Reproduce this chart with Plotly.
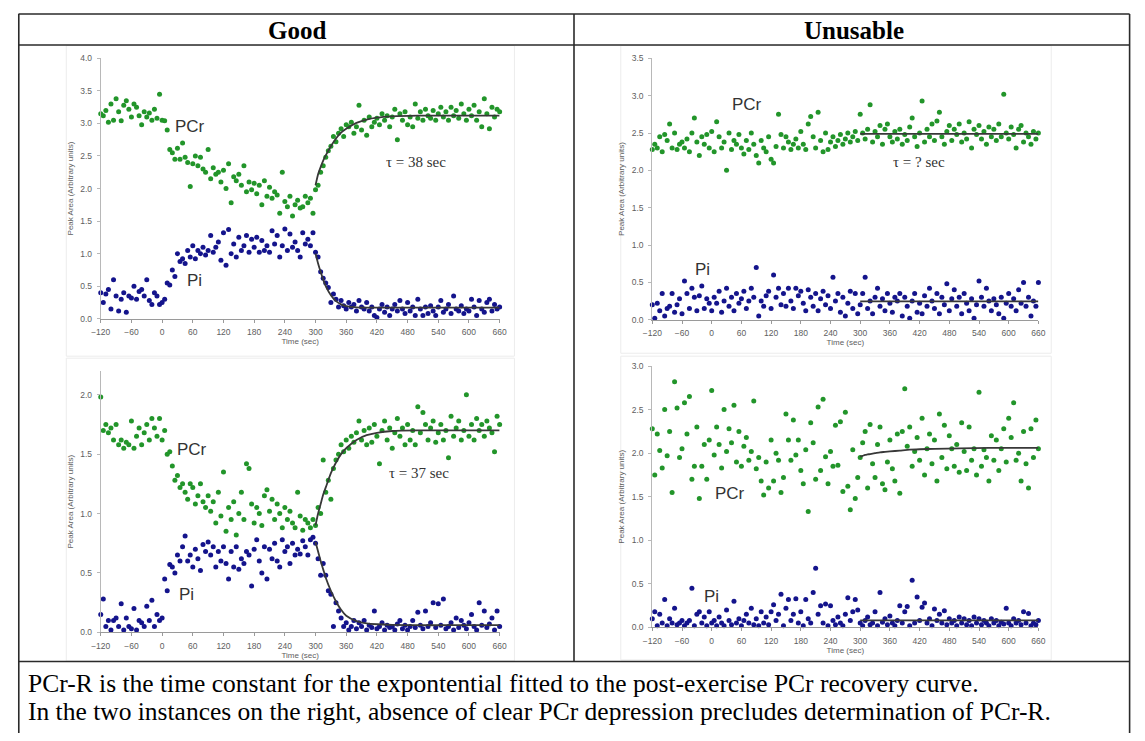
import plotly.graph_objects as go

# target picture is 1145x741; the page body keeps its default 8px margin,
# so the figure itself is 16px smaller and every target pixel is shifted by 8.
OFF = 8
W, H = 1145 - 2 * OFF, 741 - 2 * OFF

# ---------------- time grids (sec) ----------------
pre_t = list(range(-120, 0, 5))      # 24 samples
ex_t = list(range(0, 300, 5))        # 60 samples
rec_t = list(range(300, 661, 5))     # 73 samples
fit_t = [300, 305, 310, 315, 320, 330, 340, 350, 360, 380, 400, 420, 450, 500, 560, 660]

# ---------------- Good, top (tau = 38 s) ----------------
g1_pcr_pre = [3.15, 3.12, 3.20, 3.02, 3.30, 3.05, 3.38, 3.18, 3.04, 3.28, 3.35, 3.22,
              3.10, 3.30, 3.25, 3.12, 2.98, 3.18, 3.10, 3.16, 3.05, 3.22, 3.08, 3.45]
g1_pcr_ex = [3.05, 3.04, 2.90, 2.60, 2.55, 2.45, 2.62, 2.45, 2.70, 2.48, 2.40, 2.03,
             2.38, 2.50, 2.35, 2.48, 2.30, 2.25, 2.60, 2.15, 2.32, 2.22, 2.25, 2.10,
             2.28, 2.00, 2.38, 1.78, 2.18, 2.12, 2.22, 2.05, 2.35, 1.95, 2.10, 1.98,
             2.08, 1.92, 2.05, 1.75, 2.12, 1.88, 2.02, 1.85, 1.95, 1.90, 1.62, 2.25,
             1.80, 1.72, 1.88, 1.58, 1.75, 1.82, 1.70, 1.72, 1.88, 1.78, 1.85, 1.62]
g1_pcr_rec = [1.98, 2.05, 2.25, 2.35, 2.48, 2.58, 2.65, 2.80, 2.72, 2.85, 2.92, 2.80,
              2.98, 2.95, 3.02, 2.85, 2.95, 3.28, 2.90, 3.05, 2.82, 3.10, 2.95, 3.02,
              3.08, 2.98, 3.15, 3.05, 3.12, 2.95, 3.10, 3.22, 2.75, 3.15, 3.05, 3.18,
              2.98, 3.10, 2.95, 3.30, 3.08, 3.18, 3.05, 3.22, 3.12, 3.08, 3.20, 3.05,
              3.15, 3.25, 3.10, 3.18, 3.05, 3.25, 3.12, 3.20, 3.08, 3.30, 3.15, 3.05,
              3.22, 3.12, 3.28, 3.05, 3.18, 2.95, 3.38, 3.15, 2.92, 3.25, 3.10, 3.22,
              3.18]
g1_pi_pre = [0.40, 0.25, 0.38, 0.45, 0.15, 0.60, 0.35, 0.12, 0.30, 0.40, 0.10, 0.35,
             0.32, 0.50, 0.30, 0.42, 0.45, 0.35, 0.60, 0.28, 0.22, 0.40, 0.35, 0.22]
g1_pi_ex = [0.25, 0.30, 0.55, 0.52, 0.75, 0.65, 1.00, 0.88, 0.92, 0.85, 1.05, 0.95,
            1.12, 0.92, 1.05, 1.00, 1.10, 0.98, 1.05, 1.28, 1.02, 1.10, 1.18, 0.90,
            1.32, 0.82, 1.37, 1.00, 1.15, 0.95, 1.25, 1.05, 1.12, 1.28, 1.02, 1.22,
            1.10, 1.25, 1.02, 1.20, 1.05, 1.12, 1.02, 1.35, 1.15, 1.28, 0.95, 1.12,
            1.38, 1.05, 1.30, 1.10, 1.18, 1.05, 0.95, 1.32, 1.15, 1.22, 1.12, 1.32]
g1_pi_rec = [1.02, 0.95, 0.72, 0.62, 0.55, 0.48, 0.25, 0.38, 0.30, 0.18, 0.28, 0.20,
             0.15, 0.25, 0.18, 0.22, 0.12, 0.28, 0.18, 0.15, 0.25, 0.12, 0.18, 0.05,
             0.02, 0.15, 0.22, 0.10, 0.18, 0.05, 0.15, 0.22, 0.12, 0.28, 0.15, 0.08,
             0.25, 0.12, 0.18, 0.05, 0.30, 0.15, 0.05, 0.18, 0.08, 0.20, 0.12, 0.05,
             0.18, 0.28, 0.10, 0.15, 0.22, 0.08, 0.35, 0.15, 0.12, 0.20, 0.08, 0.15,
             0.12, 0.30, 0.18, 0.05, 0.28, 0.15, 0.10, 0.25, 0.30, 0.12, 0.22, 0.15,
             0.18]
g1_pcr_fit = [2.05, 2.22, 2.33, 2.43, 2.51, 2.65, 2.77, 2.86, 2.92, 3.01, 3.06, 3.09, 3.11, 3.12, 3.12, 3.12]
g1_pi_fit = [1.00, 0.85, 0.72, 0.60, 0.50, 0.36, 0.27, 0.22, 0.195, 0.175, 0.17, 0.17, 0.17, 0.17, 0.17, 0.17]

# ---------------- Unusable, top ----------------
u1_pcr_pre = [2.28, 2.35, 2.30, 2.45, 2.25, 2.48, 2.40, 2.62, 2.30, 2.50, 2.28, 2.35,
              2.38, 2.30, 2.42, 2.25, 2.50, 2.70, 2.38, 2.20, 2.45, 2.35, 2.48, 2.30]
u1_pcr_ex = [2.52, 2.25, 2.65, 2.45, 2.30, 2.38, 2.00, 2.50, 2.28, 2.40, 2.35, 2.48,
             2.30, 2.22, 2.40, 2.28, 2.50, 2.35, 2.20, 2.10, 2.40, 2.30, 2.25, 2.45,
             2.15, 2.10, 2.32, 2.75, 2.48, 2.30, 2.45, 2.38, 2.28, 2.35, 2.42, 2.30,
             2.52, 2.35, 2.28, 2.62, 2.72, 2.45, 2.30, 2.78, 2.40, 2.25, 2.50, 2.28,
             2.38, 2.45, 2.32, 2.40, 2.48, 2.35, 2.42, 2.50, 2.38, 2.45, 2.52, 2.40]
u1_pcr_rec = [2.75, 2.50, 2.42, 2.55, 2.88, 2.38, 2.52, 2.45, 2.60, 2.35, 2.55, 2.62,
              2.45, 2.38, 2.52, 2.42, 2.55, 2.35, 2.48, 2.40, 2.58, 2.70, 2.45, 2.32,
              2.50, 2.93, 2.38, 2.55, 2.45, 2.62, 2.40, 2.66, 2.78, 2.45, 2.35, 2.52,
              2.60, 2.40, 2.55, 2.48, 2.62, 2.38, 2.50, 2.42, 2.65, 2.30, 2.55, 2.48,
              2.60, 2.42, 2.52, 2.35, 2.58, 2.45, 2.55, 2.40, 2.62, 2.45, 3.02, 2.50,
              2.42, 2.58, 2.48, 2.30, 2.55, 2.60, 2.38, 2.50, 2.45, 2.35, 2.52, 2.42,
              2.50]
u1_pi_pre = [0.20, 0.02, 0.22, 0.12, 0.35, 0.05, 0.15, 0.18, 0.35, 0.10, 0.20, 0.28,
             0.08, 0.52, 0.35, 0.15, 0.42, 0.30, 0.12, 0.32, 0.45, 0.15, 0.28, 0.22]
u1_pi_ex = [0.12, 0.30, 0.22, 0.38, 0.10, 0.25, 0.42, 0.18, 0.30, 0.12, 0.35, 0.22,
            0.28, 0.38, 0.15, 0.25, 0.42, 0.30, 0.70, 0.05, 0.25, 0.18, 0.32, 0.38,
            0.15, 0.60, 0.30, 0.42, 0.20, 0.35, 0.18, 0.42, 0.25, 0.15, 0.42, 0.32,
            0.38, 0.22, 0.12, 0.40, 0.30, 0.18, 0.35, 0.12, 0.28, 0.38, 0.20, 0.32,
            0.15, 0.57, 0.25, 0.35, 0.10, 0.30, 0.05, 0.22, 0.38, 0.15, 0.35, 0.08]
u1_pi_rec = [0.20, 0.35, 0.57, 0.15, 0.25, 0.08, 0.30, 0.42, 0.18, 0.28, 0.12, 0.35,
             0.22, 0.10, 0.30, 0.25, 0.35, 0.05, 0.30, 0.18, 0.02, 0.25, 0.35, 0.10,
             0.22, 0.08, 0.32, 0.18, 0.42, 0.25, 0.15, 0.35, 0.08, 0.30, 0.20, 0.48,
             0.12, 0.28, 0.40, 0.18, 0.30, 0.08, 0.35, 0.22, 0.12, 0.28, 0.02, 0.20,
             0.52, 0.30, 0.18, 0.42, 0.25, 0.12, 0.28, 0.20, 0.08, 0.30, 0.02, 0.22,
             0.35, 0.18, 0.28, 0.12, 0.40, 0.22, 0.50, 0.18, 0.30, 0.05, 0.25, 0.18,
             0.50]
u1_pcr_fit = [2.49] * 16
u1_pi_fit = [0.245] * 16

# ---------------- Good, bottom (tau = 37 s) ----------------
g2_pcr_pre = [1.98, 1.70, 1.75, 1.68, 1.72, 1.62, 1.75, 1.58, 1.62, 1.55, 1.60, 1.58,
              1.78, 1.55, 1.65, 1.72, 1.58, 1.68, 1.75, 1.62, 1.80, 1.72, 1.65, 1.80]
g2_pcr_ex = [1.62, 1.70, 1.50, 1.52, 1.40, 1.28, 1.32, 1.22, 1.25, 1.18, 1.12, 1.25,
             1.22, 1.08, 1.15, 1.25, 1.10, 1.05, 1.15, 1.02, 1.10, 0.92, 1.18, 0.98,
             1.35, 0.85, 1.05, 0.95, 1.10, 0.82, 1.00, 1.18, 0.95, 1.42, 1.38, 1.08,
             0.92, 1.05, 1.00, 0.90, 1.15, 1.20, 1.02, 1.12, 0.95, 1.08, 1.00, 0.88,
             1.05, 0.95, 1.02, 0.92, 0.88, 1.18, 0.98, 0.86, 0.95, 0.92, 0.88, 0.95]
g2_pcr_rec = [0.90, 1.05, 1.00, 1.45, 1.18, 1.28, 1.12, 1.38, 1.45, 1.50, 1.58, 1.52,
              1.62, 1.55, 1.65, 1.60, 1.68, 1.78, 1.62, 1.70, 1.58, 1.72, 1.60, 1.75,
              1.65, 1.42, 1.70, 1.78, 1.62, 1.72, 1.55, 1.68, 1.80, 1.65, 1.72, 1.58,
              1.75, 1.62, 1.70, 1.58, 1.90, 1.68, 1.85, 1.75, 1.62, 1.72, 1.78, 1.60,
              1.68, 1.75, 1.62, 1.70, 1.47, 1.82, 1.65, 1.72, 1.78, 1.62, 1.70, 2.00,
              1.65, 1.75, 1.62, 1.80, 1.70, 1.75, 1.65, 1.78, 1.72, 1.68, 1.52, 1.82,
              1.75]
g2_pi_pre = [0.15, 0.28, 0.05, 0.10, 0.02, 0.10, 0.12, 0.05, 0.24, 0.02, 0.12, 0.05,
             0.03, 0.20, 0.02, 0.10, 0.08, 0.05, 0.22, 0.10, 0.27, 0.05, 0.15, 0.10]
g2_pi_ex = [0.12, 0.45, 0.35, 0.57, 0.55, 0.50, 0.65, 0.60, 0.72, 0.81, 0.60, 0.65,
            0.55, 0.70, 0.62, 0.52, 0.74, 0.68, 0.76, 0.65, 0.72, 0.55, 0.68, 0.60,
            0.72, 0.58, 0.45, 0.68, 0.55, 0.72, 0.53, 0.62, 0.58, 0.68, 0.65, 0.39,
            0.70, 0.78, 0.60, 0.50, 0.72, 0.45, 0.70, 0.62, 0.75, 0.60, 0.55, 0.78,
            0.68, 0.72, 0.58, 0.75, 0.65, 0.70, 0.66, 0.77, 0.72, 0.65, 0.78, 0.80]
g2_pi_rec = [0.75, 0.62, 0.48, 0.58, 0.48, 0.35, 0.32, 0.05, 0.25, 0.18, 0.12, 0.05,
             0.08, 0.02, 0.05, 0.10, 0.03, 0.08, 0.05, 0.10, 0.02, 0.06, 0.04, 0.18,
             0.03, 0.05, 0.08, 0.02, 0.06, 0.04, 0.05, 0.02, 0.07, 0.10, 0.03, 0.06,
             0.02, 0.05, 0.10, 0.04, 0.17, 0.06, 0.03, 0.18, 0.05, 0.08, 0.25, 0.04,
             0.24, 0.06, 0.28, 0.03, 0.05, 0.08, 0.02, 0.12, 0.04, 0.10, 0.06, 0.03,
             0.08, 0.15, 0.05, 0.02, 0.25, 0.06, 0.18, 0.04, 0.07, 0.12, 0.02, 0.18,
             0.05]
g2_pcr_fit = [0.90, 1.00, 1.08, 1.16, 1.22, 1.34, 1.43, 1.50, 1.55, 1.62, 1.66, 1.68, 1.695, 1.70, 1.70, 1.70]
g2_pi_fit = [0.76, 0.68, 0.60, 0.53, 0.46, 0.35, 0.26, 0.19, 0.14, 0.095, 0.075, 0.068, 0.063, 0.06, 0.06, 0.06]

# ---------------- Unusable, bottom ----------------
u2_pcr_pre = [2.28, 1.75, 2.22, 2.03, 1.83, 2.50, 1.97, 2.25, 1.55, 2.82, 2.52, 1.95,
              2.05, 2.58, 2.22, 2.65, 1.70, 1.85, 2.30, 1.48, 1.85, 2.10, 1.70, 2.15]
u2_pcr_ex = [2.72, 1.98, 2.30, 2.10, 1.83, 2.50, 2.02, 2.28, 2.12, 2.55, 1.90, 2.25,
             1.85, 2.08, 2.18, 1.92, 2.02, 2.60, 1.82, 1.95, 1.68, 1.52, 1.90, 1.60,
             2.15, 1.68, 2.00, 1.92, 1.55, 1.72, 2.45, 2.15, 1.92, 2.38, 1.98, 2.15,
             1.80, 1.65, 2.04, 1.33, 2.35, 2.12, 1.70, 2.53, 1.80, 2.62, 1.96, 1.65,
             2.02, 1.85, 2.32, 1.86, 2.36, 1.56, 2.47, 1.62, 1.35, 2.04, 1.48, 1.72]
u2_pcr_rec = [1.95, 2.12, 2.25, 1.60, 2.33, 1.88, 1.72, 2.10, 2.30, 1.65, 1.58, 1.90,
              2.15, 1.82, 1.68, 2.22, 1.54, 2.25, 2.74, 2.08, 2.30, 1.85, 2.02, 2.18,
              1.92, 2.40, 1.75, 2.05, 2.22, 1.88, 2.15, 1.68, 2.45, 1.95, 2.32, 1.82,
              2.20, 2.05, 1.85, 2.10, 1.78, 2.35, 2.02, 1.80, 2.30, 1.92, 2.05, 1.75,
              2.70, 1.85, 2.04, 1.95, 1.68, 2.20, 1.92, 2.15, 1.80, 2.05, 2.28, 1.90,
              2.40, 2.18, 2.58, 1.92, 2.00, 1.68, 2.25, 1.88, 1.60, 2.28, 1.95, 2.38,
              2.05]
u2_pi_pre = [0.10, 0.18, 0.02, 0.15, 0.05, 0.32, 0.02, 0.10, 0.05, 0.22, 0.03, 0.05,
             0.08, 0.02, 0.05, 0.08, 0.45, 0.02, 0.15, 0.18, 0.05, 0.12, 0.02, 0.18]
u2_pi_ex = [0.05, 0.08, 0.02, 0.12, 0.05, 0.02, 0.20, 0.08, 0.03, 0.30, 0.05, 0.10,
            0.02, 0.08, 0.15, 0.05, 0.22, 0.03, 0.10, 0.02, 0.18, 0.05, 0.12, 0.03,
            0.18, 0.26, 0.08, 0.15, 0.38, 0.02, 0.22, 0.32, 0.08, 0.15, 0.33, 0.05,
            0.18, 0.02, 0.32, 0.10, 0.05, 0.40, 0.68, 0.15, 0.25, 0.05, 0.27, 0.02,
            0.25, 0.08, 0.03, 0.12, 0.05, 0.02, 0.15, 0.34, 0.08, 0.18, 0.32, 0.20]
u2_pi_rec = [0.05, 0.02, 0.08, 0.12, 0.03, 0.05, 0.18, 0.02, 0.40, 0.06, 0.10, 0.03,
             0.13, 0.05, 0.02, 0.08, 0.25, 0.05, 0.18, 0.24, 0.02, 0.54, 0.05, 0.35,
             0.08, 0.23, 0.28, 0.05, 0.10, 0.02, 0.21, 0.08, 0.15, 0.05, 0.19, 0.03,
             0.10, 0.05, 0.08, 0.02, 0.12, 0.05, 0.10, 0.03, 0.08, 0.02, 0.12, 0.05,
             0.10, 0.03, 0.08, 0.05, 0.02, 0.10, 0.05, 0.08, 0.02, 0.06, 0.04, 0.22,
             0.05, 0.02, 0.10, 0.05, 0.08, 0.03, 0.18, 0.05, 0.16, 0.02, 0.05, 0.03,
             0.08]
u2_pcr_fit = [1.96, 1.97, 1.98, 1.985, 1.99, 2.00, 2.01, 2.015, 2.02, 2.03, 2.04, 2.045, 2.05, 2.055, 2.06, 2.06]
u2_pi_fit = [0.08] * 16

x_ticks = list(range(-120, 661, 60))
panel_titles = ["Good", "Unusable"]
tau_labels = ["\u03c4 = 38 sec", "\u03c4 = ? sec", "\u03c4 = 37 sec"]
footer_lines = [
    "PCr-R is the time constant for the expontential fitted to the post-exercise PCr recovery curve.",
    "In the two instances on the right, absence of clear PCr depression precludes determination of PCr-R.",
]

GREEN = "#22952a"
BLUE = "#14148c"
FITC = "#383838"


def seg(tlist, vals):
    return [t for t, _ in zip(tlist, vals)], list(vals)


def series(pre, ex, rec):
    xa, ya = seg(pre_t, pre)
    xb, yb = seg(ex_t, ex)
    xc, yc = seg(rec_t, rec)
    return xa + xb + xc, ya + yb + yc


def px(x):
    return (x - OFF) / W


def py(y):
    return 1 - (y - OFF) / H


fig = go.Figure()

panels = [
    ("", (g1_pcr_pre, g1_pcr_ex, g1_pcr_rec), (g1_pi_pre, g1_pi_ex, g1_pi_rec), g1_pcr_fit, g1_pi_fit),
    ("2", (u1_pcr_pre, u1_pcr_ex, u1_pcr_rec), (u1_pi_pre, u1_pi_ex, u1_pi_rec), u1_pcr_fit, u1_pi_fit),
    ("3", (g2_pcr_pre, g2_pcr_ex, g2_pcr_rec), (g2_pi_pre, g2_pi_ex, g2_pi_rec), g2_pcr_fit, g2_pi_fit),
    ("4", (u2_pcr_pre, u2_pcr_ex, u2_pcr_rec), (u2_pi_pre, u2_pi_ex, u2_pi_rec), u2_pcr_fit, u2_pi_fit),
]

for suf, pcr, pi, pcr_fit, pi_fit in panels:
    xa, ya = "x" + suf, "y" + suf
    x1, y1 = series(*pcr)
    x2, y2 = series(*pi)
    fig.add_trace(go.Scatter(x=x1, y=y1, mode="markers", xaxis=xa, yaxis=ya,
                             marker=dict(color=GREEN, size=5), cliponaxis=False, showlegend=False))
    fig.add_trace(go.Scatter(x=x2, y=y2, mode="markers", xaxis=xa, yaxis=ya,
                             marker=dict(color=BLUE, size=5), cliponaxis=False, showlegend=False))
    fig.add_trace(go.Scatter(x=fit_t, y=pcr_fit, mode="lines", xaxis=xa, yaxis=ya,
                             line=dict(color=FITC, width=1.8, shape="spline", smoothing=0.6),
                             showlegend=False))
    fig.add_trace(go.Scatter(x=fit_t, y=pi_fit, mode="lines", xaxis=xa, yaxis=ya,
                             line=dict(color=FITC, width=1.8, shape="spline", smoothing=0.6),
                             showlegend=False))

tickfont = dict(family="Liberation Sans, Arial", size=8.5, color="#5e5e5e")
titlefont = dict(family="Liberation Sans, Arial", size=8, color="#5e5e5e")


def xaxis(dom, anchor):
    return dict(domain=dom, anchor=anchor, range=[-120, 660], tickvals=x_ticks,
                showline=True, linecolor="#9a9a9a", linewidth=1, ticks="outside", ticklen=3,
                tickcolor="#9a9a9a", tickfont=tickfont, showgrid=False, zeroline=False,
                ticklabelstandoff=2,
                title=dict(text="Time (sec)", font=titlefont, standoff=2))


def yaxis(dom, anchor, rng, top):
    vals = [i * 0.5 for i in range(int(round(top / 0.5)) + 1)]
    return dict(domain=dom, anchor=anchor, range=rng, tickvals=vals,
                ticktext=["%.1f" % v for v in vals],
                showline=True, linecolor="#b8b8b8", linewidth=1, ticks="outside", ticklen=3,
                tickcolor="#b8b8b8", tickfont=tickfont, showgrid=False, zeroline=False,
                ticklabelstandoff=3,
                title=dict(text="Peak Area (Arbitrary units)", font=titlefont, standoff=5))


LX = [px(92), px(497)]
RX = [px(652), px(1044)]

fig.update_layout(
    width=W, height=H, autosize=False,
    margin=dict(l=0, r=0, t=0, b=0),
    paper_bgcolor="white", plot_bgcolor="white",
    xaxis=xaxis(LX, "y"),
    yaxis=yaxis([py(318), py(54)], "x", [0, 4.0], 4.0),
    xaxis2=xaxis(RX, "y2"),
    yaxis2=yaxis([py(319), py(54)], "x2", [0, 3.5], 3.5),
    xaxis3=xaxis(LX, "y3"),
    yaxis3=yaxis([py(636), py(371)], "x3", [0, 2.2], 2.0),
    xaxis4=xaxis(RX, "y4"),
    yaxis4=yaxis([py(631), py(366)], "x4", [0, 3.0], 3.0),
)

shapes = []
# faint frames of the four chart images
for (x0, y0, x1, y1) in [(57, 41, 512, 356), (57, 358, 512, 665), (620, 41, 1057, 353), (620, 356, 1057, 664)]:
    shapes.append(dict(type="rect", xref="paper", yref="paper", x0=px(x0), x1=px(x1), y0=py(y1), y1=py(y0),
                       line=dict(color="#ececec", width=1), layer="below"))
# table rules
TL = dict(color="#2a2a2a", width=1.6)
XR = 1136.6   # right rule (as far right as the figure allows)
YB = 741      # bottom of the picture
shapes.append(dict(type="line", xref="paper", yref="paper", x0=px(8.5), x1=px(XR), y0=py(9), y1=py(9), line=TL))
shapes.append(dict(type="line", xref="paper", yref="paper", x0=px(8.5), x1=px(XR), y0=py(40.5), y1=py(40.5), line=TL))
shapes.append(dict(type="line", xref="paper", yref="paper", x0=px(8.5), x1=px(XR), y0=py(665.5), y1=py(665.5), line=TL))
shapes.append(dict(type="line", xref="paper", yref="paper", x0=px(8.8), x1=px(8.8), y0=py(9), y1=py(YB), line=TL))
shapes.append(dict(type="line", xref="paper", yref="paper", x0=px(XR), x1=px(XR), y0=py(9), y1=py(YB), line=TL))
shapes.append(dict(type="line", xref="paper", yref="paper", x0=px(572.5), x1=px(572.5), y0=py(9), y1=py(665.5), line=TL))
fig.update_layout(shapes=shapes)

ann = []
serif = "Liberation Serif, Times New Roman, serif"
ann.append(dict(text="<b>%s</b>" % panel_titles[0], xref="paper", yref="paper", x=px(291), y=py(25.5),
                xanchor="center", yanchor="middle",
                showarrow=False, font=dict(family=serif, size=25, color="black")))
ann.append(dict(text="<b>%s</b>" % panel_titles[1], xref="paper", yref="paper", x=px(857), y=py(25.5),
                xanchor="center", yanchor="middle",
                showarrow=False, font=dict(family=serif, size=25, color="black")))
for i, line in enumerate(footer_lines):
    ann.append(dict(text=line, xref="paper", yref="paper", x=px(16), y=py(688 + 28 * i),
                    xanchor="left", yanchor="middle",
                    showarrow=False, font=dict(family=serif, size=25.5, color="black")))

lab = dict(family="Liberation Sans, Arial", size=17, color="#333333")
taufont = dict(family=serif, size=15, color="#333333")
labels = [
    ("", "PCr", 55, 2.95, lab), ("", "Pi", 63, 0.58, lab), ("", tau_labels[0], 497, 2.41, taufont),
    ("2", "PCr", 71, 2.88, lab), ("2", "Pi", -19, 0.67, lab), ("2", tau_labels[1], 419, 2.11, taufont),
    ("3", "PCr", 59, 1.54, lab), ("3", "Pi", 48, 0.32, lab), ("3", tau_labels[2], 502, 1.34, taufont),
    ("4", "PCr", 36, 1.54, lab), ("4", "Pi", 0, 0.36, lab),
]
for suf, txt, xv, yv, f in labels:
    ann.append(dict(text=txt, xref="x" + suf, yref="y" + suf, x=xv, y=yv, showarrow=False,
                    xanchor="center", yanchor="middle", font=f))
fig.update_layout(annotations=ann)

fig.write_html("out.html", config={"displayModeBar": False})
